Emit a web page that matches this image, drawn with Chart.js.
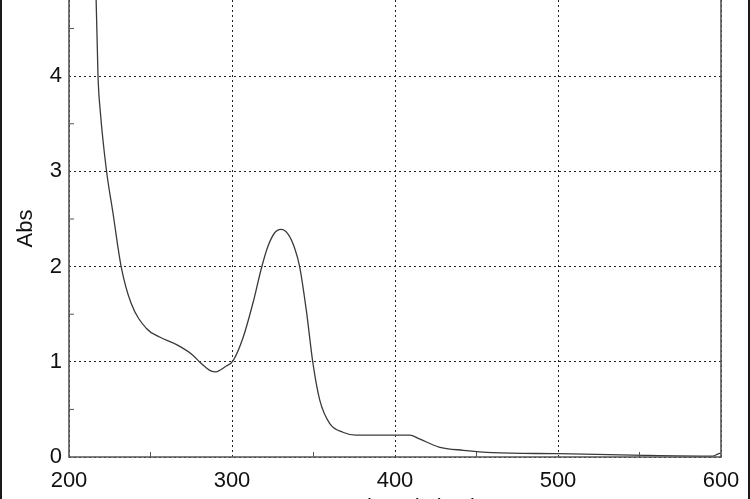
<!DOCTYPE html>
<html>
<head>
<meta charset="utf-8">
<script src="https://cdn.jsdelivr.net/npm/chart.js@4.4.1/dist/chart.umd.min.js"></script>
<style>
    html, body { margin: 0; padding: 0; background: #fff; }
    #frame {
        width: 750px; height: 499px; overflow: hidden;
        box-sizing: border-box;
        border-left: 2px solid #1a1a1a; border-right: 2px solid #1a1a1a;
    }
    #wrap { position: relative; width: 746px; height: 524px; }
</style>
</head>
<body>
<div id="frame"><div id="wrap"><canvas id="spectrum"></canvas></div></div>
<script>
// ===== Data =====
const wavelengths = [214, 216.5, 217.8, 219.3, 222.9, 227, 232, 238, 247.5, 255.6, 266, 276, 280, 284, 287, 290,
    296, 300.6, 306.7, 312.9, 318, 322, 326, 330, 334.4, 338.5, 341.5, 345.6, 349.7, 353.8, 360,
    368, 376, 392, 409, 415, 427, 442, 460, 500, 546, 595, 598, 600];
const absorbance = [5.6, 4.9, 4.0, 3.61, 3.02, 2.56, 2.0, 1.62, 1.35, 1.26, 1.18, 1.07, 1.0, 0.94, 0.905, 0.895,
    0.95, 1.01, 1.25, 1.62, 1.98, 2.21, 2.35, 2.39, 2.34, 2.19, 2.0, 1.54, 0.98, 0.60, 0.35,
    0.26, 0.23, 0.23, 0.23, 0.19, 0.105, 0.07, 0.045, 0.035, 0.02, 0.01, 0.03, 0.04];
const xTicks = [200, 300, 400, 500, 600];
const yTicks = [0, 1, 2, 3, 4];

const points = wavelengths.map((w, i) => ({ x: w, y: absorbance[i] }));

// ===== Frame + inward minor tick marks =====
const frameTicks = {
    id: 'frameTicks',
    afterDraw(chart) {
        const { ctx, chartArea: a, scales } = chart;
        ctx.save();
        ctx.strokeStyle = '#555';
        ctx.lineWidth = 1.6;
        ctx.beginPath();
        ctx.moveTo(a.left, a.top); ctx.lineTo(a.left, a.bottom);
        ctx.lineTo(a.right, a.bottom); ctx.lineTo(a.right, a.top);
        ctx.stroke();
        ctx.lineWidth = 1;
        for (let v = 250; v < 600; v += 100) {
            const px = scales.x.getPixelForValue(v);
            ctx.beginPath(); ctx.moveTo(px, a.bottom); ctx.lineTo(px, a.bottom - 5); ctx.stroke();
        }
        for (let v = 0.5; v < 4.8; v += 1) {
            const py = scales.y.getPixelForValue(v);
            ctx.beginPath(); ctx.moveTo(a.left, py); ctx.lineTo(a.left + 5, py); ctx.stroke();
        }
        ctx.restore();
    }
};

const tickFont = { family: 'Liberation Sans, Arial', size: 22 };

const ctx = document.getElementById('spectrum').getContext('2d');
new Chart(ctx, {
    type: 'scatter',
    data: {
        datasets: [{
            data: points,
            showLine: true,
            borderColor: '#3a3a3a',
            borderWidth: 1.3,
            pointRadius: 0,
            cubicInterpolationMode: 'monotone'
        }]
    },
    options: {
        responsive: true,
        maintainAspectRatio: false,
        animation: false,
        layout: { autoPadding: false, padding: { left: 0, right: 27, top: 0, bottom: 0 } },
        plugins: { legend: { display: false }, tooltip: { enabled: false } },
        scales: {
            x: {
                type: 'linear', min: 200, max: 600,
                afterBuildTicks: s => { s.ticks = xTicks.map(v => ({ value: v })); },
                afterFit: s => { s.height = 67; s.paddingLeft = 0; s.paddingRight = 0; },
                grid: { color: '#222', lineWidth: 1, drawTicks: false, tickLength: 0 },
                border: { display: false, dash: [2, 3] },
                ticks: { padding: 11, color: '#111', font: tickFont },
                title: { display: true, text: 'Wavelength (nm)', color: '#111',
                    font: tickFont, padding: { top: 0, bottom: 3 } }
            },
            y: {
                type: 'linear', min: 0, max: 4.8,
                afterBuildTicks: s => { s.ticks = yTicks.map(v => ({ value: v })); },
                afterFit: s => { s.width = 67; s.paddingTop = 0; s.paddingBottom = 0; },
                grid: { color: '#222', lineWidth: 1, drawTicks: false, tickLength: 0 },
                border: { display: false, dash: [2, 3] },
                ticks: { padding: 7, color: '#111', font: tickFont },
                title: { display: true, text: 'Abs', color: '#111',
                    font: tickFont, padding: { top: 11, bottom: 0 } }
            }
        }
    },
    plugins: [frameTicks]
});
</script>
</body>
</html>
